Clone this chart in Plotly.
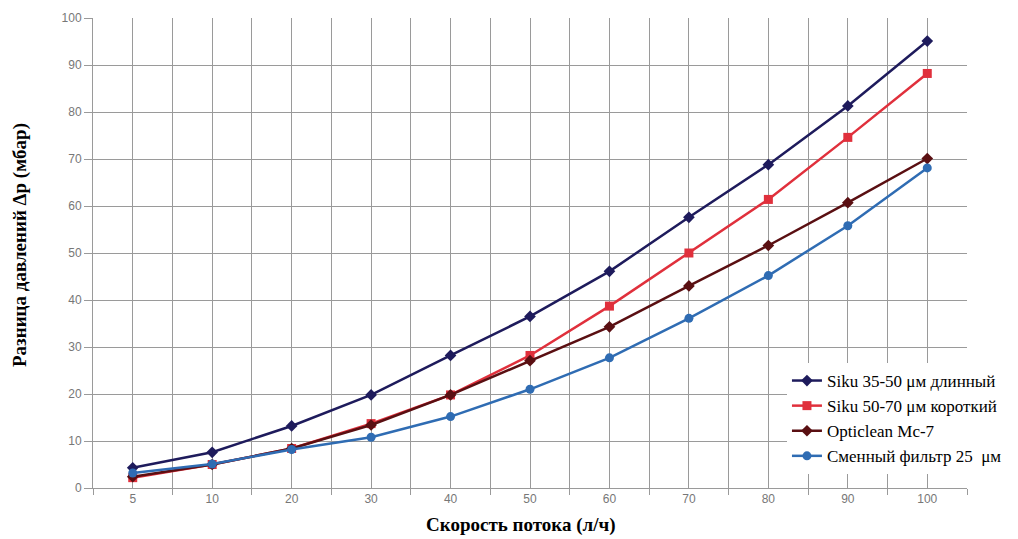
import plotly.graph_objects as go

categories = ["5", "10", "20", "30", "40", "50", "60", "70", "80", "90", "100"]
siku_35_50 = [4.3, 7.6, 13.2, 19.8, 28.2, 36.5, 46.1, 57.6, 68.8, 81.3, 95.1]
siku_50_70 = [2.2, 5.0, 8.4, 13.7, 19.8, 28.2, 38.7, 50.0, 61.4, 74.6, 88.2]
opticlean = [2.4, 5.0, 8.4, 13.4, 19.8, 27.1, 34.3, 43.0, 51.6, 60.7, 70.1]
smenny = [3.2, 5.1, 8.2, 10.8, 15.2, 21.0, 27.7, 36.1, 45.2, 55.8, 68.1]

series_names = [
    "Siku 35-50 μм длинный",
    "Siku 50-70 μм короткий",
    "Opticlean Mc-7",
    "Сменный фильтр 25  μм",
]
series_values = [siku_35_50, siku_50_70, opticlean, smenny]
colors = ["#1e1b5c", "#e0303c", "#5a0f12", "#2f6cb3"]
symbols = ["diamond", "square", "diamond", "circle"]

x_title = "<b>Скорость потока (л/ч)</b>"
y_title = "<b>Разница давлений Δp (мбар)</b>"

xpos = list(range(len(categories)))

fig = go.Figure()
for name, vals, col, sym in zip(series_names, series_values, colors, symbols):
    fig.add_trace(go.Scatter(
        x=xpos, y=vals, name=name, mode="lines+markers",
        line=dict(color=col, width=2.5),
        marker=dict(symbol=sym, size=9, color=col),
    ))

grid_col = "#9a9a9a"
title_font = dict(family="Liberation Serif", size=19, color="black")
fig.update_layout(
    width=1010, height=531,
    margin=dict(l=85, r=51, t=10, b=51),
    paper_bgcolor="white", plot_bgcolor="white",
    font=dict(family="Liberation Sans", size=12, color="#777777"),
    legend=dict(
        x=0.794, y=0.266, xref="paper", yref="paper",
        xanchor="left", yanchor="top",
        bgcolor="white",
        font=dict(family="Liberation Serif", size=17, color="black"),
        itemwidth=30, tracegroupgap=0,
    ),
    xaxis=dict(
        range=[-0.5, 10.5], automargin=False,
        tickmode="array", tickvals=xpos, ticktext=categories,
        showgrid=True, gridcolor=grid_col, gridwidth=1,
        ticks="", showline=True, linecolor=grid_col, linewidth=1,
        zeroline=False,
        minor=dict(tickmode="linear", tick0=-0.5, dtick=1, showgrid=True,
                   gridcolor=grid_col, gridwidth=1, ticks="outside",
                   ticklen=6, tickcolor=grid_col),
        tickfont=dict(size=12, color="#777777"),
    ),
    yaxis=dict(
        range=[0, 100], dtick=10, automargin=False,
        showgrid=True, gridcolor=grid_col, gridwidth=1,
        ticks="outside", ticklen=8, tickcolor=grid_col,
        showline=True, linecolor=grid_col, linewidth=1,
        zeroline=False,
        tickfont=dict(size=12, color="#777777"),
    ),
    annotations=[
        dict(text=x_title, xref="paper", yref="paper", x=0.4897, y=-0.0787,
             xanchor="center", yanchor="middle", showarrow=False, font=title_font),
        dict(text=y_title, xref="paper", yref="paper", x=-0.0835, y=0.517,
             xanchor="center", yanchor="middle", textangle=-90, showarrow=False,
             font=title_font),
    ],
)

fig.write_html("out.html")
